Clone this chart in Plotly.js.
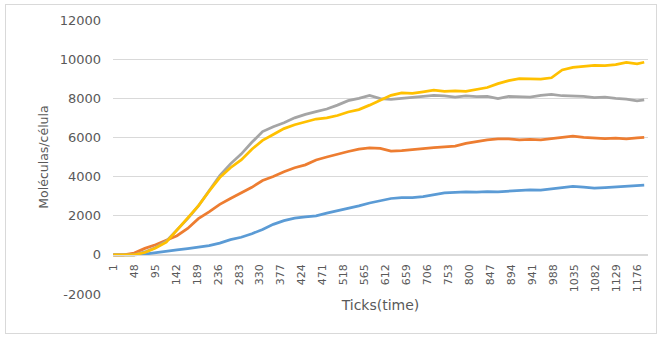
<!DOCTYPE html>
<html>
<head>
<meta charset="utf-8">
<script src="https://cdn.plot.ly/plotly-3.0.1.min.js"></script>
<style>
  html, body { margin: 0; padding: 0; background: #ffffff; }
  #wrap { position: relative; width: 661px; height: 337px; }
  #chart { position: absolute; left: 0; top: 0; width: 661px; height: 337px; }
  #frame { position: absolute; left: 5px; top: 4px; width: 650px; height: 328px;
           border: 1px solid #d9d9d9; pointer-events: none; }
</style>
</head>
<body>
<div id="wrap"><div id="chart"></div><div id="frame"></div></div>
<script>
// ---- data ----
const ticks = [1, 24, 48, 72, 96, 120, 144, 168, 192, 216, 240, 264, 288, 312, 336, 360, 384, 408, 432, 456,
  480, 504, 528, 552, 576, 600, 624, 648, 672, 696, 720, 744, 768, 792, 816, 840, 864, 888, 912, 936,
  960, 984, 1008, 1032, 1056, 1080, 1104, 1128, 1152, 1176, 1192];

const blue = [0, 0, 0, 40, 100, 160, 250, 320, 400, 470, 600, 780, 900, 1080, 1300, 1560, 1750, 1880, 1940, 1990,
  2130, 2250, 2350, 2500, 2650, 2760, 2880, 2930, 2920, 2980, 3080, 3170, 3190, 3220, 3200, 3230, 3220, 3260, 3300, 3320,
  3310, 3370, 3410, 3500, 3460, 3410, 3440, 3480, 3530, 3550, 3560];

const orange = [0, 0, 90, 330, 520, 760, 980, 1350, 1850, 2200, 2580, 2880, 3150, 3450, 3800, 4000, 4250, 4450, 4600, 4850,
  5000, 5150, 5280, 5400, 5470, 5440, 5300, 5320, 5380, 5440, 5480, 5520, 5560, 5700, 5780, 5880, 5920, 5920, 5880, 5900,
  5880, 5930, 6000, 6060, 6000, 5960, 5940, 5970, 5930, 5980, 6000];

const gray = [0, 0, 0, 150, 380, 700, 1250, 1850, 2500, 3300, 4050, 4650, 5150, 5750, 6300, 6550, 6750, 7000, 7180, 7320,
  7450, 7650, 7880, 8000, 8150, 7980, 7950, 8000, 8050, 8100, 8150, 8120, 8060, 8120, 8080, 8100, 7980, 8100, 8080, 8060,
  8150, 8200, 8130, 8120, 8100, 8030, 8060, 8000, 7960, 7870, 7920];

const yellow = [0, 0, 0, 120, 350, 650, 1250, 1850, 2500, 3250, 3950, 4450, 4850, 5400, 5850, 6150, 6450, 6650, 6780, 6940,
  7000, 7120, 7300, 7420, 7650, 7900, 8150, 8280, 8250, 8330, 8420, 8350, 8380, 8350, 8450, 8550, 8750, 8900, 9000, 9000,
  8980, 9050, 9450, 9580, 9640, 9680, 9670, 9720, 9830, 9760, 9840];

const xTickVals = [1, 48, 95, 142, 189, 236, 283, 330, 377, 424, 471, 518, 565, 612, 659, 706, 753, 800, 847, 894,
  941, 988, 1035, 1082, 1129, 1176];
const xTickText = xTickVals.map(String);
const yTickVals = [-2000, 0, 2000, 4000, 6000, 8000, 10000, 12000];
const yTickText = ['-2000', '0', '2000', '4000', '6000', '8000', '10000', '12000'];

const seriesList = [
  { y: blue, color: '#5B9BD5' },
  { y: orange, color: '#ED7D31' },
  { y: gray, color: '#A5A5A5' },
  { y: yellow, color: '#FFC000' }
];

const traces = seriesList.map(s => ({
  x: ticks, y: s.y, type: 'scatter', mode: 'lines',
  line: { color: s.color, width: 2.75 }, hoverinfo: 'skip'
}));

const txt = '#595959';
const layout = {
  width: 661, height: 337,
  margin: { l: 113, r: 13, t: 20, b: 43 },
  paper_bgcolor: '#ffffff', plot_bgcolor: '#ffffff',
  showlegend: false,
  font: { family: 'DejaVu Sans', color: txt },
  xaxis: {
    range: [0.5, 1200.5], tickvals: xTickVals, ticktext: xTickText,
    tickangle: -90, tickfont: { family: 'DejaVu Sans', size: 11, color: txt },
    showgrid: false, zeroline: false, showline: true, linecolor: '#d9d9d9', linewidth: 1,
    ticks: '', ticklabelstandoff: 4,
    anchor: 'free', position: 2000 / 14000,
    title: { text: 'Ticks(time)', font: { family: 'DejaVu Sans', size: 14, color: txt }, standoff: 8 }
  },
  yaxis: {
    range: [-2000, 12000], tickvals: yTickVals, ticktext: yTickText,
    tickfont: { family: 'DejaVu Sans', size: 13, color: txt },
    showgrid: true, gridcolor: '#d9d9d9', gridwidth: 1, zeroline: false, showline: false,
    ticks: '', ticklabelstandoff: 11,
    title: { text: 'Moléculas/célula', font: { family: 'DejaVu Sans', size: 12.5, color: txt }, standoff: 8 }
  }
};

Plotly.newPlot('chart', traces, layout, { displayModeBar: false, staticPlot: true });
</script>
</body>
</html>
